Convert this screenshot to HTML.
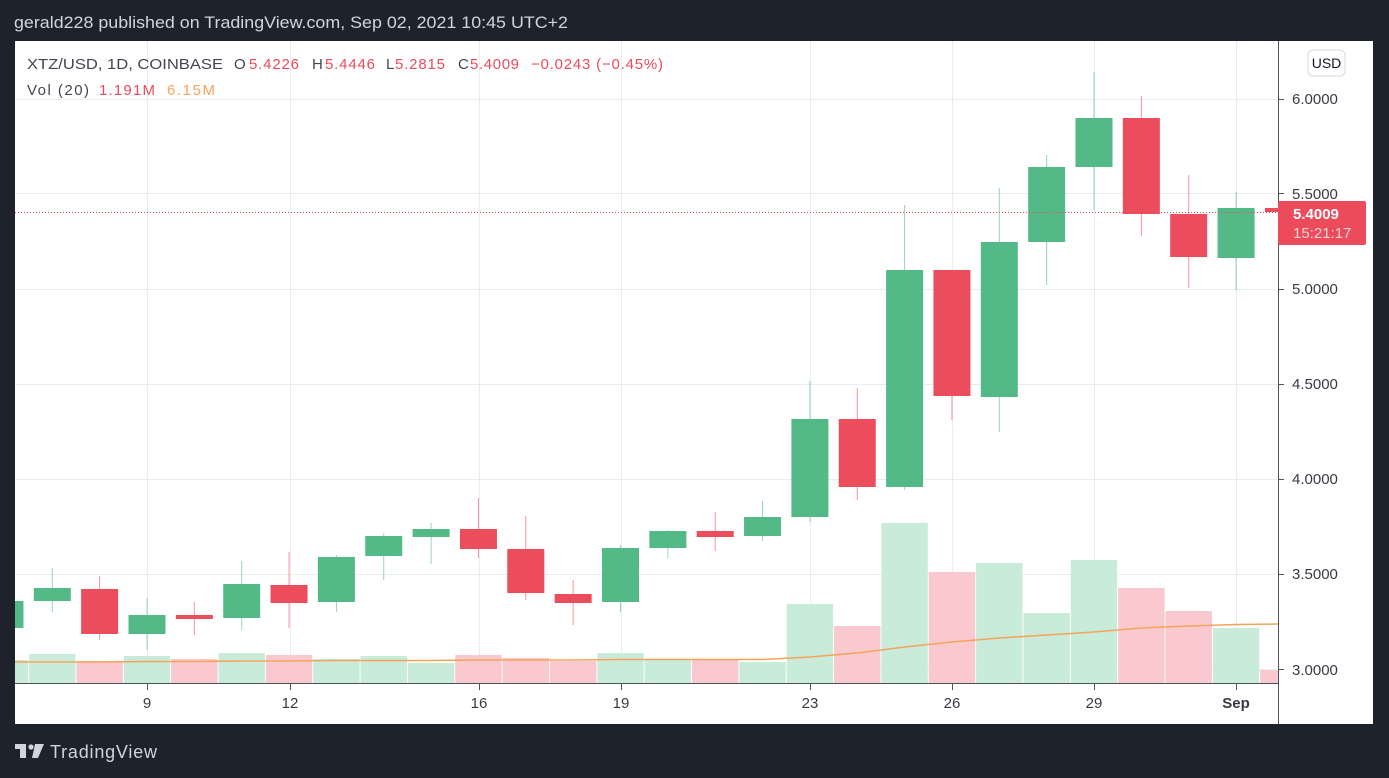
<!DOCTYPE html>
<html><head><meta charset="utf-8"><style>
html,body{margin:0;padding:0;background:#1e222d;width:1389px;height:778px;overflow:hidden;font-family:"Liberation Sans",sans-serif}
svg{position:absolute;left:0;top:0}
</style></head><body>
<svg id="s" width="1389" height="778" xmlns="http://www.w3.org/2000/svg">
<defs><clipPath id="cp"><rect x="15" y="41" width="1263" height="642"/></clipPath></defs>
<rect x="0" y="0" width="1389" height="778" fill="#1e222d"/>
<text x="14" y="28" fill="#d1d4dc" font-size="17" textLength="554" lengthAdjust="spacingAndGlyphs">gerald228 published on TradingView.com, Sep 02, 2021 10:45 UTC+2</text>
<rect x="15" y="41" width="1358" height="683" fill="#ffffff"/>
<g id="grid" stroke="#e6edf3" stroke-width="1"></g>
<g clip-path="url(#cp)">
<g id="vol"></g>
<polyline id="ma" fill="none" stroke="#f7a35c" stroke-width="1.5" points=""/>
<g id="cd"></g>
</g>
<line x1="15" y1="212.5" x2="1278" y2="212.5" stroke="#ec4b5c" stroke-width="1" stroke-dasharray="1,2"/>
<line x1="15" y1="683.5" x2="1278" y2="683.5" stroke="#50535e" stroke-width="1"/>
<line x1="1278.5" y1="41" x2="1278.5" y2="724" stroke="#50535e" stroke-width="1"/>
<g id="ticks" stroke="#50535e"></g>
<g fill="#131722" font-size="15" opacity="0.85">
<text x="1292" y="104">6.0000</text>
<text x="1292" y="199">5.5000</text>
<text x="1292" y="294">5.0000</text>
<text x="1292" y="389">4.5000</text>
<text x="1292" y="484">4.0000</text>
<text x="1292" y="579">3.5000</text>
<text x="1292" y="675">3.0000</text>
</g>
<g fill="#131722" font-size="15" opacity="0.85" text-anchor="middle">
<text x="147" y="708">9</text><text x="290" y="708">12</text><text x="479" y="708">16</text><text x="621" y="708">19</text>
<text x="810" y="708">23</text><text x="952" y="708">26</text><text x="1094" y="708">29</text><text x="1236" y="708" font-weight="bold">Sep</text>
</g>
<rect x="1308" y="50" width="37" height="26" rx="5" fill="#fff" stroke="#d6d9e0"/>
<text x="1326.5" y="68" fill="#131722" font-size="14" text-anchor="middle">USD</text>
<rect x="1278" y="201" width="88" height="44" rx="2" fill="#ec4b5c"/>
<text x="1293" y="219" fill="#fff" font-size="15" font-weight="bold">5.4009</text>
<text x="1293" y="238" fill="#fbd3d7" font-size="15">15:21:17</text>
<g font-size="15" fill="#434651">
<text x="27" y="69" textLength="196" lengthAdjust="spacingAndGlyphs">XTZ/USD, 1D, COINBASE</text>
<text x="234" y="69">O</text><text x="249" y="69" fill="#ec4b5c" textLength="50">5.4226</text>
<text x="312" y="69">H</text><text x="325" y="69" fill="#ec4b5c" textLength="50">5.4446</text>
<text x="386" y="69">L</text><text x="395" y="69" fill="#ec4b5c" textLength="50">5.2815</text>
<text x="458" y="69">C</text><text x="470" y="69" fill="#ec4b5c" textLength="49">5.4009</text>
<text x="531" y="69" fill="#ec4b5c" textLength="132">−0.0243 (−0.45%)</text>
<text x="27" y="95" textLength="62">Vol (20)</text>
<text x="99" y="95" fill="#ec4b5c" textLength="56">1.191M</text>
<text x="167" y="95" fill="#f7a35c" textLength="48">6.15M</text>
</g>
<g fill="#d1d4dc"><rect x="15" y="744" width="11" height="5"/><rect x="20" y="744" width="6" height="14"/><circle cx="31" cy="747" r="2.6"/><polygon points="35,744 44,744 38,758 32,758"/></g>
<text x="50" y="758" fill="#d1d4dc" font-size="18" textLength="107">TradingView</text>
</svg>
<script>
var NS="http://www.w3.org/2000/svg";
function el(p,t,a){var e=document.createElementNS(NS,t);for(var k in a)e.setAttribute(k,a[k]);document.getElementById(p).appendChild(e);}
[99,193,289,384,479,574,669].forEach(function(y){el("grid","line",{x1:15,x2:1278,y1:y+.5,y2:y+.5});el("ticks","line",{x1:1278,x2:1284,y1:y+.5,y2:y+.5});});
[147,290,479,621,810,952,1094,1236].forEach(function(x){el("grid","line",{x1:x+.5,x2:x+.5,y1:41,y2:683});el("ticks","line",{x1:x+.5,x2:x+.5,y1:684,y2:690});});
var C=[[601,628,590,640,1,660],[588,601,568,612,1,654],[589,634,576,640,0,661],[615,634,598,650,1,656],[615,619,602,635,0,659],[584,618,561,630,1,653],[585,603,552,628,0,655],[557,602,555,612,1,659],[536,556,533,580,1,656],[529,537,523,564,1,663],[529,549,498,558,0,655],[549,593,516,600,0,658],[594,603,580,625,0,661],[548,602,545,612,1,653],[531,548,530,558,1,659],[531,537,512,551,0,659],[517,536,501,541,1,662],[419,517,381,522,1,604],[419,487,388,500,0,626],[270,487,205,490,1,523],[270,396,270,420,0,572],[242,397,188,432,1,563],[167,242,155,285,1,613],[118,167,72,210,1,560],[118,214,96,236,0,588],[214,257,175,288,0,611],[208,258,192,290,1,628],[208,212,208,212,0,670]];
var ma=[662,662,662,661.5,661.5,661,661,660.5,660.5,660.5,660,660,660,659.5,659.5,659.5,659.5,657,653,647,642,638,635,632,628,626,624.5,624];
var pts=[];
C.forEach(function(c,i){var x=147+(i-3)*47.35;
 el("vol","rect",{x:x-23.2,y:c[5],width:46.4,height:683-c[5],fill:c[4]?"#c9ebd9":"#fac8cf"});
 var g=c[4]?"#53b987":"#eb4d5c";
 el("cd","line",{x1:x,x2:x,y1:c[2],y2:c[3],stroke:g,"stroke-width":1,opacity:.6});
 el("cd","rect",{x:x-18.5,y:c[0],width:37,height:Math.max(1,c[1]-c[0]),fill:g});
 pts.push(x+","+ma[i]);});
document.getElementById("ma").setAttribute("points",pts.join(" "));
</script>
</body></html>
